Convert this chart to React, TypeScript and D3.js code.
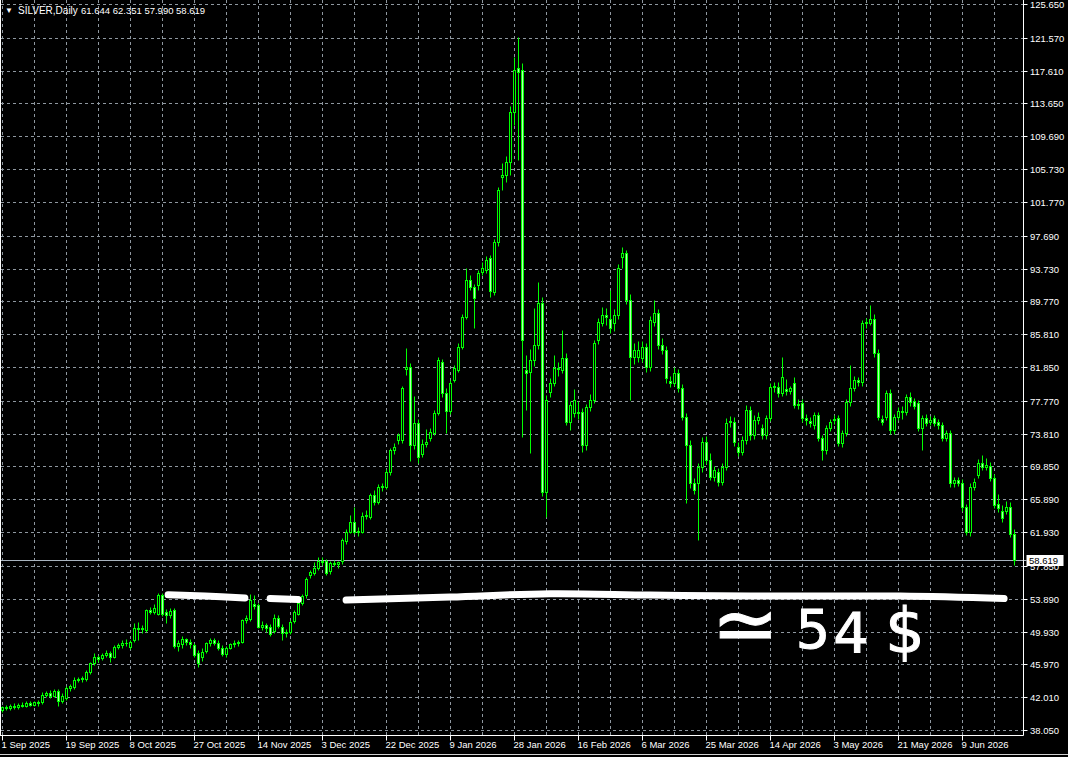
import React from 'react'
import * as d3 from 'd3'

type Bar = [number, number, number, number] // open, high, low, close

// daily bars, 1 Sep 2025 onwards
const ohlcSepOct: Bar[] = [
  [40.5, 41.0, 40.2, 40.8], [40.8, 41.1, 40.5, 40.7], [40.7, 41.2, 40.5, 41.0], [41.0, 41.3, 40.6, 40.8],
  [40.8, 41.3, 40.6, 41.1], [41.1, 41.4, 40.8, 41.0], [41.0, 41.5, 40.8, 41.3], [41.3, 41.6, 40.9, 41.1],
  [41.1, 41.6, 40.9, 41.4], [41.4, 41.7, 41.0, 41.3], [41.4, 42.6, 41.2, 42.3], [42.3, 42.8, 42.0, 42.5],
  [42.5, 42.9, 41.9, 42.1], [42.1, 43.0, 42.0, 42.8], [42.7, 43.0, 41.0, 41.5], [41.5, 42.5, 41.3, 42.2],
  [41.9, 43.3, 41.7, 43.1], [43.1, 43.6, 42.8, 43.3], [43.2, 44.4, 43.0, 44.1], [44.1, 44.5, 43.8, 44.2],
  [44.2, 44.6, 43.9, 44.3], [44.2, 45.3, 44.0, 45.0], [45.0, 46.3, 44.8, 46.1], [46.1, 47.3, 45.9, 46.8],
  [46.8, 47.1, 46.3, 46.6], [46.7, 47.3, 46.5, 47.1], [47.1, 47.7, 46.9, 47.4], [47.3, 47.6, 46.3, 46.8],
  [46.9, 48.3, 46.7, 48.1], [48.1, 48.6, 47.8, 48.3], [48.3, 48.9, 48.0, 48.6], [48.6, 49.0, 48.2, 48.5],
  [48.1, 48.9, 47.8, 48.7], [48.9, 51.0, 48.7, 50.4], [50.4, 51.1, 48.9, 50.2], [50.2, 50.7, 49.7, 50.3],
  [50.1, 52.7, 49.9, 52.5], [52.5, 52.9, 52.0, 52.3], [52.3, 53.3, 52.0, 52.8], [52.1, 54.6, 51.9, 54.3],
  [54.3, 54.6, 51.8, 52.0], [52.3, 52.6, 51.0, 51.9], [51.9, 52.8, 51.6, 52.4], [52.5, 52.8, 47.9, 48.2],
  [48.2, 48.9, 47.6, 48.6], [48.4, 49.4, 48.0, 49.0], [49.0, 49.2, 48.3, 48.7], [48.7, 49.0, 48.0, 48.4],
  [48.3, 48.6, 46.8, 47.1], [47.3, 47.7, 45.6, 46.1], [46.8, 47.9, 46.4, 47.5], [47.6, 48.7, 47.3, 48.5],
  [48.5, 49.2, 48.2, 48.9], [48.9, 49.1, 48.3, 48.6], [48.6, 48.9, 47.7, 47.9], [48.0, 48.3, 47.0, 47.2],
  [47.2, 48.2, 46.8, 48.0], [48.0, 48.6, 47.8, 48.4], [48.4, 48.9, 48.1, 48.6], [48.6, 48.9, 48.2, 48.7],
  [48.7, 51.5, 48.5, 51.3], [51.3, 51.9, 51.0, 51.6], [51.4, 54.5, 51.2, 53.7], [53.2, 54.3, 52.6, 53.0],
]

const ohlcNovJan: Bar[] = [
  [53.1, 53.4, 50.3, 50.5], [50.5, 51.2, 50.1, 50.7], [50.7, 51.0, 49.9, 50.3], [50.5, 50.9, 49.4, 49.6],
  [50.0, 52.0, 49.7, 51.6], [51.6, 51.9, 50.4, 50.6], [50.5, 50.8, 48.9, 49.7], [49.7, 50.2, 49.3, 49.9],
  [49.9, 51.3, 49.6, 51.1], [51.2, 52.5, 51.0, 52.3], [52.1, 53.6, 51.9, 53.4], [53.4, 54.5, 53.1, 54.2],
  [54.3, 56.5, 54.0, 56.3], [56.8, 57.4, 56.4, 57.1], [57.0, 58.3, 56.8, 57.6], [57.6, 58.9, 57.3, 58.5],
  [58.5, 58.9, 58.0, 58.3], [58.5, 58.7, 56.8, 57.0], [57.2, 58.5, 56.9, 58.2], [58.2, 58.6, 57.8, 58.1],
  [58.1, 58.5, 57.6, 58.3], [58.4, 61.2, 58.1, 61.0], [60.8, 62.3, 60.5, 62.0], [62.0, 64.0, 61.8, 63.2],
  [63.2, 65.0, 61.7, 62.0], [62.0, 62.5, 61.4, 62.1], [62.0, 64.3, 61.8, 63.9], [63.9, 64.6, 63.5, 64.0],
  [63.8, 66.7, 63.5, 66.4], [66.4, 67.0, 65.2, 65.6], [65.6, 67.7, 65.3, 67.4], [67.4, 67.9, 66.9, 67.5],
  [67.4, 69.5, 67.1, 69.2], [69.2, 72.1, 68.8, 71.8], [71.8, 72.7, 71.4, 72.2], [73.0, 73.9, 72.5, 73.6],
  [73.0, 79.6, 72.7, 79.3], [81.6, 84.1, 80.9, 81.8], [81.8, 82.3, 70.5, 72.4], [72.4, 78.4, 72.0, 75.1],
  [75.1, 75.6, 70.3, 71.0], [71.4, 73.2, 71.0, 72.6], [72.6, 74.4, 72.2, 72.8], [73.3, 74.5, 72.9, 74.0],
  [73.9, 76.7, 73.6, 76.3], [76.3, 83.0, 76.0, 82.7], [82.4, 82.8, 78.2, 78.7], [78.7, 79.3, 73.9, 76.6],
  [76.6, 80.3, 76.2, 79.9], [80.3, 82.1, 80.0, 81.7], [81.5, 84.7, 81.2, 84.3], [84.3, 88.3, 84.0, 87.9],
  [87.9, 93.8, 87.6, 92.3], [92.3, 93.0, 91.1, 91.5], [91.5, 91.9, 86.6, 90.2], [91.7, 93.6, 91.2, 93.2],
  [93.3, 94.5, 92.9, 93.8], [93.5, 95.3, 93.2, 94.8], [95.0, 95.4, 90.3, 91.0], [90.9, 97.3, 90.5, 96.9],
  [96.9, 103.6, 96.5, 103.2], [104.8, 106.5, 103.2, 105.0], [105.0, 107.3, 104.2, 106.6], [106.6, 113.3, 105.0, 112.6],
]

const ohlcJanApr: Bar[] = [
  [112.6, 119.3, 111.0, 117.7], [117.9, 121.7, 106.8, 117.5], [117.7, 118.5, 73.4, 85.1], [81.5, 83.3, 76.7, 81.1],
  [81.2, 84.0, 71.5, 82.7], [82.7, 89.0, 82.0, 84.5], [84.5, 92.1, 84.0, 89.6], [89.6, 90.3, 66.3, 66.8],
  [66.8, 78.5, 63.7, 77.9], [78.8, 80.5, 78.2, 79.9], [79.9, 83.3, 79.5, 81.7], [81.7, 82.4, 80.8, 81.6],
  [81.5, 86.3, 81.1, 82.9], [82.9, 83.5, 74.8, 75.2], [75.2, 77.8, 74.2, 77.3], [76.3, 79.2, 75.8, 77.9],
  [76.4, 77.8, 75.6, 76.3], [76.4, 76.9, 71.6, 72.4], [72.4, 77.4, 71.8, 77.0], [77.0, 78.6, 76.5, 77.9],
  [77.9, 85.1, 77.5, 84.7], [85.1, 87.8, 84.6, 87.3], [87.2, 89.1, 86.8, 88.1], [88.1, 89.0, 86.9, 87.9],
  [87.7, 91.1, 86.0, 86.5], [87.2, 88.8, 86.2, 88.1], [88.1, 94.3, 87.7, 93.8], [95.1, 96.3, 93.8, 95.6],
  [95.6, 96.0, 89.5, 89.9], [89.9, 90.6, 77.9, 83.0], [83.0, 84.7, 82.2, 83.9], [83.0, 85.0, 82.5, 83.9],
  [82.9, 85.0, 82.5, 84.3], [84.3, 84.8, 81.3, 81.8], [81.8, 88.0, 81.4, 87.5], [87.3, 89.9, 86.8, 88.4],
  [88.4, 88.8, 84.0, 84.5], [84.5, 85.3, 83.4, 83.9], [83.9, 84.4, 79.9, 80.5], [80.2, 80.8, 79.4, 79.9],
  [79.9, 81.8, 79.5, 81.1], [81.1, 81.6, 78.8, 79.3], [79.3, 79.8, 75.4, 75.8], [75.8, 76.3, 65.4, 72.4],
  [72.4, 73.0, 67.3, 67.8], [67.9, 68.5, 66.5, 67.0], [67.9, 70.3, 61.0, 69.8], [69.8, 73.4, 69.2, 72.8],
  [72.8, 73.5, 70.2, 70.6], [70.6, 71.5, 68.2, 68.6], [68.6, 69.9, 68.1, 69.4], [69.2, 69.7, 67.5, 68.0],
  [68.0, 70.3, 67.6, 69.8], [69.8, 75.7, 69.4, 75.1], [75.2, 75.9, 74.6, 75.3], [75.2, 75.8, 72.3, 72.8],
  [72.2, 72.8, 71.1, 71.6], [71.6, 73.5, 71.2, 73.0], [73.0, 77.3, 72.6, 76.7], [76.7, 77.2, 73.1, 73.6],
  [73.6, 76.0, 73.2, 75.5], [75.5, 76.4, 75.0, 75.8], [74.5, 75.0, 73.2, 73.6], [73.6, 76.1, 73.2, 75.7],
]

const ohlcAprJun: Bar[] = [
  [75.7, 79.9, 75.3, 79.4], [79.4, 80.1, 78.8, 79.5], [79.4, 80.0, 78.2, 78.7], [78.7, 83.0, 78.3, 80.6],
  [79.2, 80.4, 78.5, 79.0], [79.0, 79.6, 78.6, 79.3], [79.9, 80.6, 76.9, 77.3], [77.4, 78.0, 76.8, 77.3],
  [77.5, 78.0, 75.2, 75.7], [75.7, 76.2, 74.9, 75.5], [75.3, 75.8, 74.6, 75.1], [74.8, 76.4, 74.4, 76.0],
  [76.0, 76.4, 72.9, 73.3], [73.3, 73.7, 70.6, 71.8], [71.8, 74.9, 71.4, 74.5], [74.5, 75.6, 74.1, 75.2],
  [75.4, 76.1, 75.0, 75.6], [75.7, 76.0, 72.3, 72.7], [72.7, 74.3, 72.2, 73.9], [73.9, 78.0, 73.5, 77.6],
  [77.6, 82.1, 77.2, 79.3], [79.3, 80.8, 78.9, 80.3], [80.3, 80.7, 79.6, 80.0], [80.0, 87.5, 79.6, 87.1],
  [87.1, 87.8, 86.6, 87.3], [87.2, 89.3, 86.9, 87.7], [87.7, 88.2, 83.1, 83.5], [83.5, 84.0, 75.4, 75.8],
  [75.6, 76.1, 74.8, 75.2], [75.8, 79.1, 75.4, 78.7], [78.7, 79.2, 73.8, 74.2], [74.2, 76.2, 73.8, 75.8],
  [75.8, 77.0, 75.4, 76.6], [76.6, 77.1, 75.6, 76.4], [76.4, 78.6, 76.0, 78.2], [78.2, 78.8, 77.2, 77.6],
  [77.7, 78.1, 76.8, 77.2], [77.5, 77.9, 74.1, 74.5], [74.5, 76.1, 71.8, 75.7], [75.7, 76.2, 74.7, 75.1],
  [75.2, 75.9, 74.8, 75.5], [75.7, 76.1, 74.7, 75.1], [75.2, 75.6, 74.4, 74.8], [74.8, 75.2, 72.9, 73.3],
  [73.3, 74.3, 72.9, 73.9], [73.9, 74.3, 67.4, 67.8], [67.8, 68.6, 67.4, 68.2], [68.2, 68.6, 67.5, 67.9],
  [67.8, 68.3, 64.5, 64.9], [64.9, 65.3, 61.6, 61.9], [61.9, 67.8, 61.5, 67.4], [67.4, 68.5, 67.0, 68.0],
  [68.8, 70.7, 68.4, 70.3], [70.3, 71.2, 69.4, 69.8], [69.8, 70.9, 69.4, 70.0], [69.9, 70.4, 68.1, 68.5],
  [68.5, 68.9, 64.8, 65.2], [65.3, 66.5, 64.4, 64.8], [64.5, 65.2, 63.2, 63.6], [64.5, 65.7, 64.1, 64.9],
  [64.9, 65.6, 61.3, 61.7], [61.644, 62.351, 57.99, 58.619],
]

const bars: Bar[] = [...ohlcSepOct, ...ohlcNovJan, ...ohlcJanApr, ...ohlcAprJun]

const priceTicks = [
  125.65, 121.57, 117.61, 113.65, 109.69, 105.73, 101.77, 97.69, 93.73, 89.77, 85.81, 81.85,
  77.77, 73.81, 69.85, 65.89, 61.93, 57.85, 53.89, 49.93, 45.97, 42.01, 38.05,
]

const dateTickBars = [0, 16, 32, 48, 64, 80, 96, 112, 128, 144, 160, 176, 192, 208, 224, 240]
const dateLabels = [
  '1 Sep 2025', '19 Sep 2025', '8 Oct 2025', '27 Oct 2025', '14 Nov 2025', '3 Dec 2025',
  '22 Dec 2025', '9 Jan 2026', '28 Jan 2026', '16 Feb 2026', '6 Mar 2026', '25 Mar 2026',
  '14 Apr 2026', '3 May 2026', '21 May 2026', '9 Jun 2026',
]

const symbolLabel = 'SILVER,Daily'
const headerValues = '61.644 62.351 57.990 58.619'
const lastPrice = 58.619

// hand-drawn support line: [bar index, price]
const brushA: [number, number][] = [[41.4, 54.36], [50.6, 54.21], [60.6, 53.97]]
const brushB: [number, number][] = [[66.9, 53.91], [73.9, 53.79]]
const brushC: [number, number][] = [
  [85.9, 53.73], [111.9, 54.09], [136.9, 54.5], [161.9, 54.33], [186.9, 54.21], [224.4, 54.21], [250.4, 53.91],
]
const noteChars = ['≃', '5', '4', '$']

export default function App() {
  const W = 1068
  const H = 757
  const axisX = 1023.5
  const axisY = 735.5
  const green = '#00ff00'

  const x = d3.scaleLinear().domain([0, bars.length - 1]).range([2.5, 1014.5])
  const y = d3.scaleLinear().domain([38.05, 125.65]).range([730, 4])
  const py = (v: number) => Math.round(y(v)) + 0.5

  const gridBars = d3.range(0, bars.length, 8)

  const brush = d3.line<[number, number]>()
    .x(d => x(d[0]))
    .y(d => y(d[1]))
    .curve(d3.curveCatmullRom)

  // hand-written note glyph spots
  const notePos = [
    { x: 745, y: 652, size: 80 },
    { x: 813, y: 648, size: 54 },
    { x: 851, y: 652, size: 56 },
    { x: 905, y: 652, size: 62 },
  ]

  const lastY = Math.round(y(lastPrice)) + 0.5

  return (
    <svg
      width={W}
      height={H}
      style={{ position: 'absolute', left: 0, top: 0, display: 'block', background: '#000' }}
      fontFamily="'Liberation Sans', Arial, sans-serif"
    >
      <rect x={0} y={0} width={W} height={H} fill="#000" />

      {/* grid */}
      <g stroke="#8e979f" strokeWidth={1} strokeDasharray="3,3">
        {priceTicks.map(t => (
          <line key={'h' + t} x1={1} x2={axisX} y1={py(t)} y2={py(t)} />
        ))}
        {gridBars.map(b => (
          <line key={'v' + b} x1={x(b)} x2={x(b)} y1={0} y2={axisY} />
        ))}
      </g>

      {/* current price line */}
      <line x1={1} x2={axisX + 3} y1={lastY} y2={lastY} stroke="#a9b4bf" strokeWidth={1} />

      {/* candles */}
      <g>
        {bars.map(([o, h, l, c], i) => {
          const cx = x(i)
          const top = Math.round(y(Math.max(o, c)))
          const bot = Math.round(y(Math.min(o, c)))
          const bull = c >= o
          return (
            <g key={i}>
              <line x1={cx} x2={cx} y1={py(h)} y2={py(l)} stroke={green} strokeWidth={1} />
              {bot - top >= 1 ? (
                <rect x={cx - 1} y={top + 0.5} width={2} height={bot - top} fill={bull ? '#000' : '#b4ffb4'} stroke={green} strokeWidth={1} />
              ) : (
                <line x1={cx - 1.5} x2={cx + 1.5} y1={top + 0.5} y2={top + 0.5} stroke={green} strokeWidth={1} />
              )}
            </g>
          )
        })}
      </g>

      {/* hand-drawn annotation */}
      <g fill="none" stroke="#fff" strokeWidth={7} strokeLinecap="round" strokeLinejoin="round">
        <path d={brush(brushA) || ''} />
        <path d={brush(brushB) || ''} />
        <path d={brush(brushC) || ''} />
      </g>
      <text fill="#fff" stroke="#fff" strokeWidth={1} fontFamily="'DejaVu Sans', sans-serif" textAnchor="middle">
        {noteChars.map((ch, i) => (
          <tspan key={i} x={notePos[i].x} y={notePos[i].y} fontSize={notePos[i].size}>{ch}</tspan>
        ))}
      </text>

      {/* frame */}
      <g stroke="#fff" strokeWidth={1}>
        <line x1={0.5} x2={0.5} y1={0} y2={axisY} />
        <line x1={axisX} x2={axisX} y1={0} y2={axisY} />
        <line x1={0} x2={axisX} y1={axisY} y2={axisY} />
      </g>

      {/* price axis */}
      <g fontSize={9.5} fill="#fff">
        {priceTicks.map(t => (
          <g key={'p' + t}>
            <line x1={axisX} x2={axisX + 4} y1={py(t)} y2={py(t)} stroke="#fff" />
            <text x={1030} y={py(t) + 3.5}>{t.toFixed(3)}</text>
          </g>
        ))}
      </g>
      <rect x={1026.5} y={lastY - 5.5} width={37} height={11} fill="#fff" />
      <text x={1029} y={lastY + 3.5} fontSize={9.5} fill="#000">{lastPrice.toFixed(3)}</text>

      {/* time axis */}
      <g fontSize={9.5} fill="#fff">
        {dateTickBars.map((b, i) => (
          <g key={'d' + b}>
            <line x1={x(b)} x2={x(b)} y1={axisY} y2={axisY + 5} stroke="#fff" />
            <text x={x(b) - 1} y={748}>{dateLabels[i]}</text>
          </g>
        ))}
      </g>

      {/* header */}
      <text x={5} y={13} fontSize={8} fill="#fff">▼</text>
      <text x={18} y={14} fontSize={10} fill="#fff">{symbolLabel}</text>
      <text x={81} y={14} fontSize={9.5} fill="#fff">{headerValues}</text>

      <line x1={0} x2={W} y1={754.5} y2={754.5} stroke="#cfcfcf" strokeWidth={1} />
    </svg>
  )
}
